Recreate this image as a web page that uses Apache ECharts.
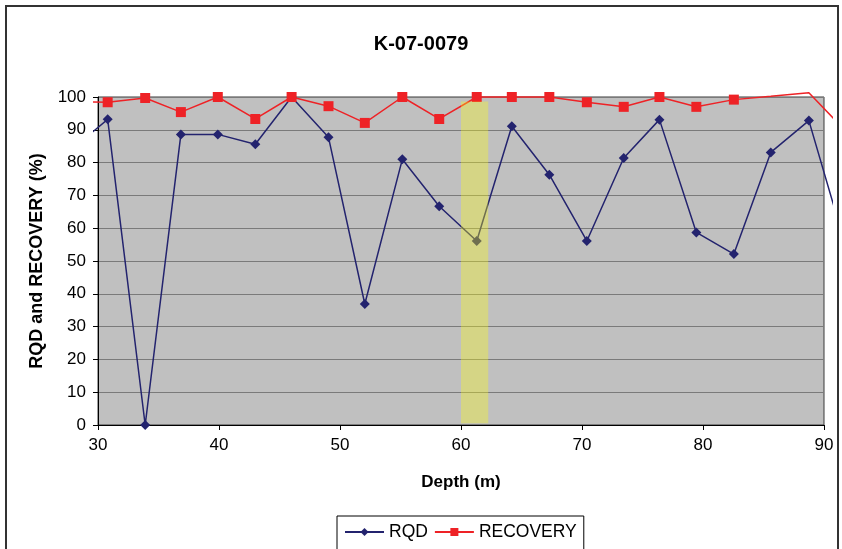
<!DOCTYPE html>
<html>
<head>
<meta charset="utf-8">
<script src="https://cdn.jsdelivr.net/npm/echarts@6/dist/echarts.min.js"></script>
<style>
  html, body { margin: 0; padding: 0; background: #ffffff; }
  #chart { width: 842px; height: 549px; }
</style>
</head>
<body>
<div id="chart"></div>
<script>
// Drill hole K-07-0079: RQD and core recovery by depth
const depths   = [27.8, 30.8, 33.9, 36.85, 39.9, 43.0, 46.0, 49.05, 52.05, 55.15, 58.2, 61.3, 64.2, 67.3, 70.4, 73.45, 76.4, 79.45, 82.55, 85.6, 88.75, 91.8];
const rqd      = [83.9, 93.2, 0, 88.6, 88.6, 85.6, 100, 87.7, 36.9, 81.0, 66.7, 56.1, 91.1, 76.3, 56.1, 81.4, 93.1, 58.7, 52.1, 83.1, 92.8, 54.3];
const recovery = [98.5, 98.4, 99.7, 95.4, 100, 93.3, 100, 97.2, 92.1, 100, 93.3, 100, 100, 100, 98.4, 97.0, 100, 97.0, 99.2, 100.2, 101.3, 89.6];
const depthTicks = [30, 40, 50, 60, 70, 80, 90];
const highlightInterval = [60, 62.25];   // highlighted depth interval (m)

const FONT = 'Liberation Sans, Arial, sans-serif';
const X_MIN = 30, X_MAX = 90, Y_MIN = 0, Y_MAX = 100;

// markers are only drawn for samples lying inside the plotted range
function pts(vals) {
  return depths.map((d, i) => {
    const v = vals[i];
    const inside = d >= X_MIN && d <= X_MAX && v >= Y_MIN && v <= Y_MAX;
    return inside ? { value: [d, v] } : { value: [d, v], symbol: 'none' };
  });
}

// plot frame (grid 0) and a slightly larger drawing frame (grid 1) sharing the same scale
const g0 = { left: 98, right: 18, top: 97, bottom: 124 };
const g1 = { left: 94, right: 11, top: 89, bottom: 120 };
const W = 842, H = 549;
const pxPerX = (W - g0.left - g0.right) / (X_MAX - X_MIN);
const pxPerY = (H - g0.top - g0.bottom) / (Y_MAX - Y_MIN);
const x1min = X_MIN - (g0.left - g1.left) / pxPerX;
const x1max = X_MAX + (g0.right - g1.right) / pxPerX;
const y1max = Y_MAX + (g0.top - g1.top) / pxPerY;
const y1min = Y_MIN - (g0.bottom - g1.bottom) / pxPerY;

const chart = echarts.init(document.getElementById('chart'), null, { renderer: 'canvas' });
chart.setOption({
  animation: false,
  backgroundColor: '#ffffff',
  title: {
    text: 'K-07-0079',
    left: 'center',
    top: 29,
    textStyle: { fontFamily: FONT, fontSize: 20, fontWeight: 'bold', color: '#000' }
  },
  legend: {
    left: 337,
    top: 516,
    padding: [7, 7, 9, 7],
    itemGap: 6,
    itemWidth: 39,
    itemHeight: 10,
    borderColor: '#000',
    borderWidth: 1,
    textStyle: { fontFamily: FONT, fontSize: 17.5, color: '#000', padding: [0, 0, 0, 0] },
    data: ['RQD', 'RECOVERY']
  },
  grid: [
    Object.assign({ show: true, backgroundColor: '#c0c0c0', borderColor: '#3a3a3a', borderWidth: 1 }, g0),
    Object.assign({ show: false }, g1)
  ],
  xAxis: [
    {
      gridIndex: 0, type: 'value', min: X_MIN, max: X_MAX, interval: 10,
      name: 'Depth (m)', nameLocation: 'middle', nameGap: 49,
      nameTextStyle: { fontFamily: FONT, fontSize: 17, fontWeight: 'bold', color: '#000' },
      axisLine: { show: true, lineStyle: { color: '#000', width: 1 } },
      axisTick: { show: true, length: 5, lineStyle: { color: '#000' } },
      axisLabel: { fontFamily: FONT, fontSize: 17, color: '#000', margin: 12,
                   formatter: v => depthTicks.includes(v) ? String(v) : '' },
      splitLine: { show: false }
    },
    { gridIndex: 1, type: 'value', min: x1min, max: x1max, show: false }
  ],
  yAxis: [
    {
      gridIndex: 0, type: 'value', min: Y_MIN, max: Y_MAX, interval: 10,
      name: 'RQD and RECOVERY (%)', nameLocation: 'middle', nameGap: 52, nameRotate: 90,
      nameTextStyle: { fontFamily: FONT, fontSize: 18, fontWeight: 'bold', color: '#000' },
      axisLine: { show: true, lineStyle: { color: '#000', width: 1 } },
      axisTick: { show: true, length: 5, lineStyle: { color: '#000' } },
      axisLabel: { fontFamily: FONT, fontSize: 17, color: '#000', margin: 12 },
      splitLine: { show: true, lineStyle: { color: '#7a7a7a', width: 1 } }
    },
    { gridIndex: 1, type: 'value', min: y1min, max: y1max, show: false }
  ],
  series: [
    {
      name: 'RQD', type: 'line', xAxisIndex: 1, yAxisIndex: 1, z: 3,
      clip: true,
      data: pts(rqd),
      symbol: 'diamond', symbolSize: 10,
      lineStyle: { color: '#23236e', width: 1.5 },
      itemStyle: { color: '#23236e' }
    },
    {
      name: 'RECOVERY', type: 'line', xAxisIndex: 1, yAxisIndex: 1, z: 3,
      clip: true,
      data: pts(recovery),
      symbol: 'rect', symbolSize: 10,
      lineStyle: { color: '#ee2226', width: 1.5 },
      itemStyle: { color: '#ee2226' }
    },
    {
      // translucent band laid over the highlighted interval
      name: 'interval', type: 'line', xAxisIndex: 0, yAxisIndex: 0, z: 6,
      data: [], silent: true,
      markArea: {
        silent: true,
        z: 20,
        itemStyle: { color: 'rgba(255,255,20,0.34)' },
        data: [[{ xAxis: highlightInterval[0], yAxis: 0.5 }, { xAxis: highlightInterval[1], yAxis: 98.6 }]]
      }
    }
  ],
  graphic: [
    {
      type: 'rect', silent: true, z: 100,
      shape: { x: 6, y: 6, width: 832, height: 560 },
      style: { fill: 'none', stroke: '#333', lineWidth: 2 }
    }
  ]
});
</script>
</body>
</html>
